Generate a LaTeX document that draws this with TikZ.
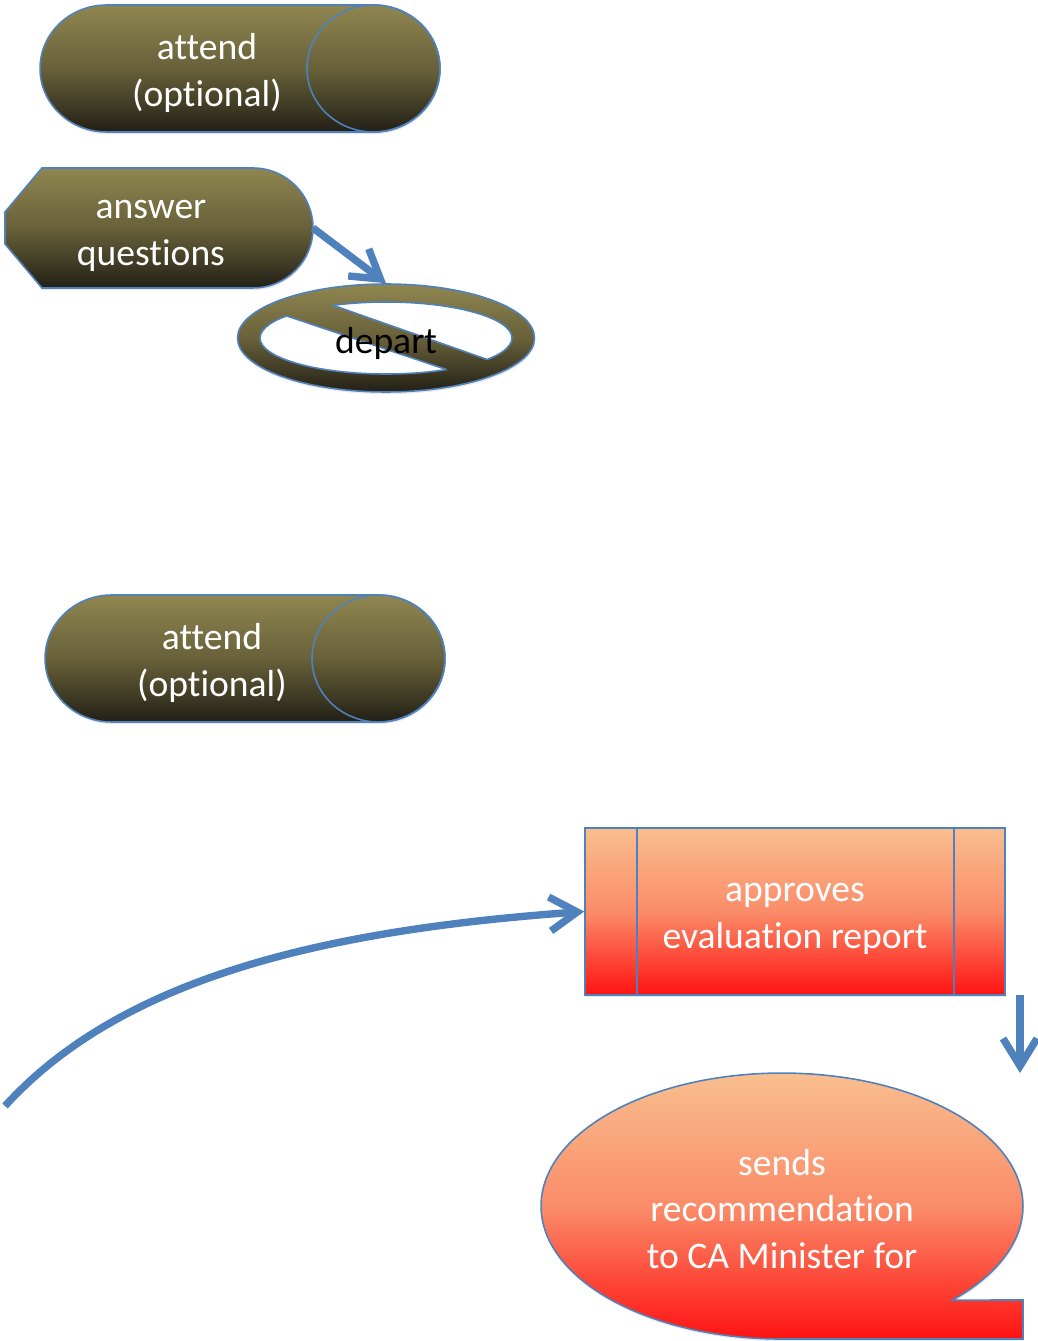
\documentclass[tikz,border=0pt]{standalone}
\usepackage{fontspec}
\setmainfont{Carlito}[Ligatures=NoCommon]
\usetikzlibrary{arrows.meta,shapes.geometric,shadows}

\definecolor{olivetop}{RGB}{143,134,80}
\definecolor{olivemid}{RGB}{104,97,58}
\definecolor{olivebot}{RGB}{34,32,22}
\definecolor{peach}{RGB}{249,190,143}
\definecolor{salmon}{RGB}{250,140,105}
\definecolor{hotred}{RGB}{255,18,18}
\definecolor{edgeblue}{RGB}{79,129,189}

\begin{document}
\begin{tikzpicture}[x=0.02cm, y=-0.02cm,
    frame/.style={rectangle, inner sep=0pt, outer sep=0pt},
    words/.style={align=center, text=white, inner sep=0pt, font=\fontsize{21.4}{26.6}\selectfont},
    olive fill/.style={top color=olivetop, bottom color=olivebot, middle color=olivemid, draw=edgeblue, line width=0.9pt},
    red fill/.style={top color=peach, bottom color=hotred, middle color=salmon, draw=edgeblue, line width=0.9pt},
    soft shadow/.style={drop shadow={opacity=0.18, shadow xshift=0.4pt, shadow yshift=-1.2pt}},
    hole/.style={fill=white, draw=edgeblue, line width=0.9pt},
    flow/.style={draw=edgeblue, line width=4.2pt, -{Straight Barb[length=5.5mm, width=6.8mm]}}]

    \useasboundingbox (0,0) rectangle (1037,1341);

    % frames of the storage shapes
    \node[frame, minimum width=8cm, minimum height=2.54cm] (attend1) at (240,68.5) {};
    \node[frame, minimum width=8cm, minimum height=2.54cm] (attend2) at (245,658.5) {};
    \node[frame, minimum width=6.16cm, minimum height=2.4cm] (answer) at (159,228) {};

    \foreach \c in {attend1,attend2} {
        \path[olive fill, soft shadow] ([xshift=1.33cm]\c.north west) -- ([xshift=-1.33cm]\c.north east)
            arc[start angle=90, end angle=-90, x radius=1.33cm, y radius=1.27cm]
            -- ([xshift=1.33cm]\c.south west)
            arc[start angle=-90, end angle=-270, x radius=1.33cm, y radius=1.27cm] -- cycle;
        \draw[edgeblue, line width=0.9pt] ([xshift=-1.33cm]\c.east) ellipse[x radius=1.33cm, y radius=1.27cm];
    }

    % display shape
    \path[olive fill, soft shadow] (42,168) -- (253,168)
        arc[start angle=90, end angle=-90, radius=1.2cm]
        -- (42,288) -- (5,244) -- (5,212) -- cycle;

    % no symbol
    \node[ellipse, olive fill, soft shadow, minimum width=5.94cm, minimum height=2.16cm, inner sep=0pt] (depart) at (386,338) {};
    \begin{scope}
        \clip (150,270.1) -- (650,437.9) -- (650,500) -- (150,500) -- cycle;
        \path[hole] (depart.center) ellipse[x radius=2.52cm, y radius=0.72cm];
    \end{scope}
    \begin{scope}
        \clip (150,241) -- (650,416.7) -- (650,200) -- (150,200) -- cycle;
        \path[hole] (depart.center) ellipse[x radius=2.52cm, y radius=0.72cm];
    \end{scope}
    \draw[edgeblue, line width=0.9pt] (286.6,315.9) -- (446.6,369.6) (333,305.3) -- (487.2,359.5);

    \node[words] (attend1 label) at (207,73) {attend\\(optional)};
    \node[words] (attend2 label) at (212,663) {attend\\(optional)};
    \node[words] (answer label) at (151,236) {answer\\questions};
    \node[words, text=black] (depart label) at (386,343) {depart};

    % predefined process
    \node[rectangle, red fill, soft shadow, minimum width=8.4cm, minimum height=3.34cm] (approve) at (795,911.5) {};
    \draw[edgeblue, line width=0.9pt] ([xshift=1.06cm]approve.north west) -- ([xshift=1.06cm]approve.south west)
        ([xshift=-1.04cm]approve.north east) -- ([xshift=-1.04cm]approve.south east);
    \node[words] (approve label) at (795,919) {approves\\evaluation report};

    % sequential access storage
    \path[red fill, soft shadow] (782,1339)
        arc[start angle=-90, end angle=-405, x radius=4.82cm, y radius=2.66cm]
        -- (1023,1300) -- (1023,1339) -- cycle;
    \node[words] (send) at (782,1209) {sends\\recommendation\\to CA Minister for};

    % connectors
    \coordinate (loop start) at (5,1106);
    \coordinate (drop top) at (1020,995);
    \coordinate (drop end) at (1020,1073);
    \draw[flow] (answer.east) -- (depart.north);
    \draw[flow] (loop start) .. controls (125,974) and (335,929.5) .. (approve.west);
    \draw[flow] (drop top) -- (drop end);

\end{tikzpicture}
\end{document}
